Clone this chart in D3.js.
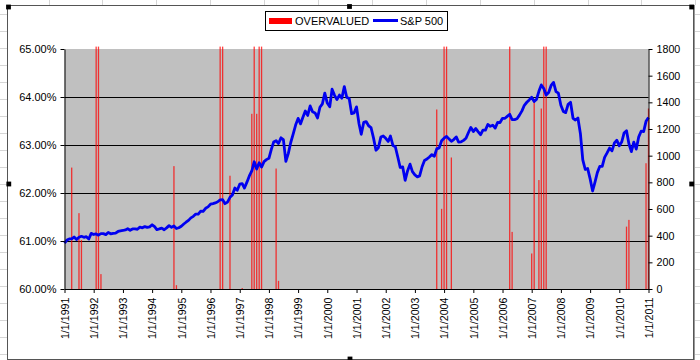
<!DOCTYPE html>
<html>
<head>
<meta charset="utf-8">
<script src="https://cdn.jsdelivr.net/npm/d3@7"></script>
<style>
  body { margin: 0; background: #fff; }
  svg { display: block; font-family: Arial, "Liberation Sans", sans-serif; }
</style>
</head>
<body>
<svg id="chart" width="700" height="360"></svg>
<script>
// ---------------- DATA ----------------
// S&P 500 monthly closes, one value per month starting 1/1/1991, ending 1/1/2011
const spStart = "1991-01-01";
const sp500 = [
  343.9, 367.1, 375.2, 375.3, 389.8, 371.2, 387.8, 395.4, 387.9, 392.5, 375.2, 417.1,
  408.8, 412.7, 403.7, 415.0, 415.4, 408.1, 424.2, 414.0, 417.8, 418.7, 431.4, 435.7,
  438.8, 443.4, 451.7, 440.2, 450.2, 450.5, 448.1, 463.6, 458.9, 467.8, 461.8, 466.5,
  481.6, 467.1, 445.8, 450.9, 456.5, 444.3, 458.3, 475.5, 462.7, 472.4, 453.7, 459.3,
  470.4, 487.4, 500.7, 514.7, 533.4, 544.8, 562.1, 561.9, 584.4, 581.5, 605.4, 615.9,
  636.0, 640.4, 645.5, 654.2, 669.1, 670.6, 640.0, 652.0, 687.3, 705.3, 757.0, 740.7,
  786.2, 790.8, 757.1, 801.3, 848.3, 885.1, 954.3, 899.5, 947.3, 914.6, 955.4, 970.4,
  980.3, 1049.3, 1101.8, 1111.8, 1090.8, 1133.8, 1120.7, 957.3, 1017.0, 1098.7, 1163.6, 1229.2,
  1279.6, 1238.3, 1286.4, 1335.2, 1301.8, 1372.7, 1328.7, 1320.4, 1282.7, 1362.9, 1388.9, 1469.3,
  1394.5, 1366.4, 1498.6, 1452.4, 1420.6, 1454.6, 1430.8, 1517.7, 1436.5, 1429.4, 1315.0, 1320.3,
  1366.0, 1239.9, 1160.3, 1249.5, 1255.8, 1224.4, 1211.2, 1133.6, 1040.9, 1059.8, 1139.5, 1148.1,
  1130.2, 1106.7, 1147.4, 1076.9, 1067.1, 989.8, 911.6, 916.1, 815.3, 885.8, 936.3, 879.8,
  855.7, 841.2, 848.2, 916.9, 963.6, 974.5, 990.3, 1008.0, 996.0, 1050.7, 1058.2, 1111.9,
  1131.1, 1144.9, 1126.2, 1107.3, 1120.7, 1140.8, 1101.7, 1104.2, 1114.6, 1130.2, 1173.8, 1211.9,
  1181.3, 1203.6, 1180.6, 1156.9, 1191.5, 1191.3, 1234.2, 1220.3, 1228.8, 1207.0, 1249.5, 1248.3,
  1280.1, 1280.7, 1294.8, 1310.6, 1270.1, 1270.2, 1276.7, 1303.8, 1335.9, 1377.9, 1400.6, 1418.3,
  1438.2, 1406.8, 1420.9, 1482.4, 1530.6, 1503.4, 1455.3, 1474.0, 1526.8, 1549.4, 1481.1, 1468.4,
  1378.6, 1330.6, 1322.7, 1385.6, 1400.4, 1280.0, 1267.4, 1282.8, 1166.4, 968.8, 896.2, 903.3,
  825.9, 735.1, 797.9, 872.8, 919.1, 919.3, 987.5, 1020.6, 1057.1, 1036.2, 1095.6, 1115.1,
  1073.9, 1104.5, 1169.4, 1186.7, 1089.4, 1030.7, 1101.6, 1049.3, 1141.2, 1183.3, 1180.6, 1257.6,
  1286.1
];

// OVERVALUED bars (left axis, %), dated by month; bars above 65% are clipped at the plot top
const overDates = [
  "1991-04-01", "1991-07-01", "1991-08-01",
  "1992-02-01", "1992-03-01", "1992-04-01",
  "1994-10-01", "1994-11-01",
  "1996-05-01", "1996-06-01", "1996-09-01",
  "1997-02-01", "1997-06-01", "1997-07-01", "1997-08-01", "1997-09-01", "1997-10-01",
  "1998-04-01", "1998-05-01",
  "2003-10-01", "2003-12-01", "2004-01-01", "2004-02-01", "2004-04-01",
  "2006-04-01", "2006-05-01",
  "2007-01-01", "2007-02-01", "2007-04-01", "2007-05-01", "2007-06-01", "2007-07-01",
  "2010-04-01", "2010-05-01",
  "2010-12-01", "2011-01-01"
];
const overValues = [
  62.53, 61.58, 61.02,
  65.05, 65.05, 60.31,
  62.56, 60.08,
  65.05, 65.05, 62.36,
  60.02, 63.65, 65.05, 63.65, 65.05, 65.05,
  62.51, 60.17,
  63.74, 61.67, 65.05, 65.05, 62.74,
  65.05, 61.19,
  60.74, 63.90, 62.27, 63.76, 65.05, 65.05,
  61.30, 61.44,
  62.62, 63.76
];

const leftTicks = [60, 61, 62, 63, 64, 65];
const gridTicks = [61, 62, 63, 64];
const rightTicks = [0, 200, 400, 600, 800, 1000, 1200, 1400, 1600, 1800];
const yearTicks = [1991, 1992, 1993, 1994, 1995, 1996, 1997, 1998, 1999, 2000, 2001,
                   2002, 2003, 2004, 2005, 2006, 2007, 2008, 2009, 2010, 2011];
const legendLabels = ["OVERVALUED", "S&P 500"];

// ---------------- DRAW ----------------
const svg = d3.select("#chart");
const W = 700, H = 360;
const plot = { left: 64.5, right: 648.5, top: 49, bottom: 289 };

// spreadsheet background grid (outside the chart object)
const sheet = svg.append("g").attr("stroke", "#d6d6d6").attr("stroke-width", 1);
d3.range(48.5, W, 53.9).forEach(x => {
  sheet.append("line").attr("x1", Math.round(x) + 0.5).attr("x2", Math.round(x) + 0.5)
    .attr("y1", 0).attr("y2", 5);
});
d3.range(14, H, 17).forEach(y => {
  sheet.append("line").attr("x1", 0).attr("x2", 7).attr("y1", y + 0.5).attr("y2", y + 0.5);
  sheet.append("line").attr("x1", 694).attr("x2", W).attr("y1", y + 0.5).attr("y2", y + 0.5);
});

// chart area
svg.append("rect").attr("x", 7.5).attr("y", 5.5).attr("width", 686).attr("height", 354)
  .attr("fill", "#fff").attr("stroke", "#555").attr("stroke-width", 1);
svg.append("line").attr("x1", 694.5).attr("x2", 694.5).attr("y1", 5).attr("y2", 360)
  .attr("stroke", "#999").attr("stroke-width", 1);

const parse = d3.timeParse("%Y-%m-%d");
const x = d3.scaleTime()
  .domain([new Date(1991, 0, 1), new Date(2011, 0, 1)])
  .range([plot.left, plot.right]);
const yL = d3.scaleLinear().domain([60, 65]).range([plot.bottom, plot.top]);
const yR = d3.scaleLinear().domain([0, 1800]).range([plot.bottom, plot.top]);

// plot area
svg.append("rect")
  .attr("x", plot.left).attr("y", plot.top)
  .attr("width", plot.right - plot.left).attr("height", plot.bottom - plot.top)
  .attr("fill", "#c0c0c0");

// gridlines
svg.append("g").selectAll("line").data(gridTicks).join("line")
  .attr("x1", plot.left).attr("x2", plot.right)
  .attr("y1", d => Math.round(yL(d)) + 0.5).attr("y2", d => Math.round(yL(d)) + 0.5)
  .attr("stroke", "#000").attr("stroke-width", 1);

// bars
const bars = overDates.map((d, i) => ({ date: parse(d), v: overValues[i] }));
const barW = 1.3;
svg.append("g").selectAll("rect").data(bars).join("rect")
  .attr("x", d => x(d.date) - barW / 2)
  .attr("width", barW)
  .attr("y", d => yL(d.v))
  .attr("height", d => yL(60) - yL(d.v))
  .attr("fill", "#ff0000")
  .attr("fill-opacity", 0.75);

// S&P 500 line
const start = parse(spStart);
const spData = sp500.map((v, i) => ({ date: d3.timeMonth.offset(start, i), v }));
svg.append("path")
  .datum(spData)
  .attr("fill", "none")
  .attr("stroke", "#0000f0")
  .attr("stroke-width", 2.8)
  .attr("stroke-linejoin", "round")
  .attr("d", d3.line().x(d => x(d.date)).y(d => yR(d.v)));

// axes
const styleAxis = g => {
  g.selectAll(".domain").attr("stroke", "#000");
  g.selectAll(".tick line").attr("stroke", "#000");
  g.selectAll("text").attr("fill", "#000").attr("font-family", "Arial, 'Liberation Sans', sans-serif");
};

svg.append("g")
  .attr("transform", `translate(${plot.left},0)`)
  .call(d3.axisLeft(yL).tickValues(leftTicks).tickFormat(d => d.toFixed(2) + "%")
    .tickSize(4).tickSizeOuter(0).tickPadding(4))
  .call(styleAxis)
  .selectAll("text").attr("font-size", 11);

svg.append("g")
  .attr("transform", `translate(${plot.right},0)`)
  .call(d3.axisRight(yR).tickValues(rightTicks).tickFormat(d3.format("d"))
    .tickSize(4).tickSizeOuter(0).tickPadding(4))
  .call(styleAxis)
  .selectAll("text").attr("font-size", 10.7);

const xAxis = svg.append("g")
  .attr("transform", `translate(0,${plot.bottom})`)
  .call(d3.axisBottom(x).tickValues(yearTicks.map(y => new Date(y, 0, 1)))
    .tickFormat(d3.timeFormat("%-m/%-d/%Y")).tickSize(4).tickSizeOuter(0))
  .call(styleAxis);
xAxis.selectAll("text")
  .attr("font-size", 10.7)
  .attr("transform", "rotate(-90)")
  .attr("x", -8.5).attr("y", 0).attr("dy", "0.35em")
  .style("text-anchor", "end");

// legend
const lg = svg.append("g");
lg.append("rect").attr("x", 265.5).attr("y", 11.5).attr("width", 182).attr("height", 19)
  .attr("fill", "#fff").attr("stroke", "#000").attr("stroke-width", 1);
lg.append("rect").attr("x", 269).attr("y", 18).attr("width", 23).attr("height", 6).attr("fill", "#ff0000");
lg.append("text").attr("x", 295).attr("y", 25).attr("font-size", 11).attr("fill", "#000").text(legendLabels[0]);
lg.append("line").attr("x1", 373).attr("x2", 398).attr("y1", 20.5).attr("y2", 20.5)
  .attr("stroke", "#0000f0").attr("stroke-width", 3);
lg.append("text").attr("x", 400).attr("y", 25).attr("font-size", 11).attr("fill", "#000").text(legendLabels[1]);

// selection handles of the chart object
const handles = [[8.5, 7], [349.5, 6.5], [691.7, 7], [8.8, 184], [691.7, 184], [350, 359]];
svg.append("g").selectAll("rect").data(handles).join("rect")
  .attr("x", d => d[0] - 2.4).attr("y", d => d[1] - 2.4)
  .attr("width", 4.8).attr("height", 4.8).attr("fill", "#000");
</script>
</body>
</html>
